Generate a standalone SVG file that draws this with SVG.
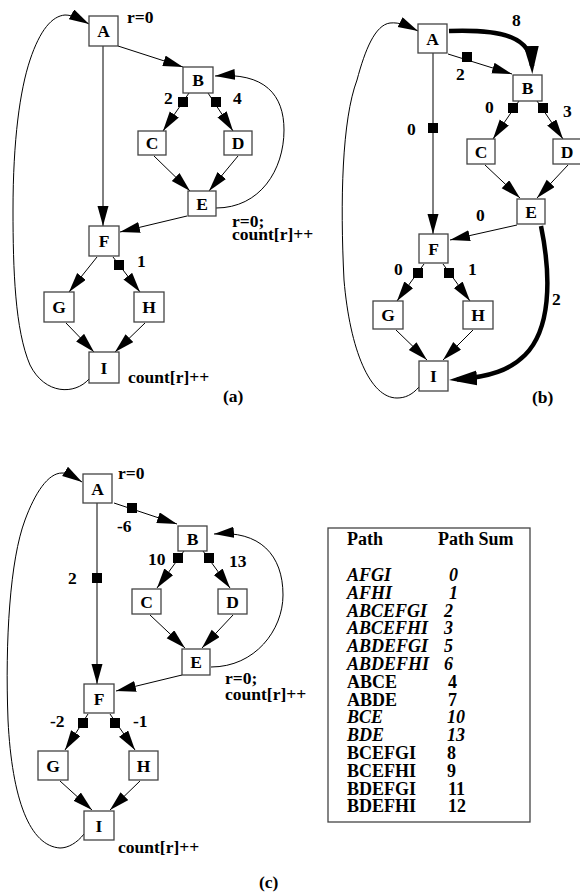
<svg xmlns="http://www.w3.org/2000/svg" width="580" height="895" viewBox="0 0 580 895">
<defs>
<marker id="ah" markerUnits="userSpaceOnUse" markerWidth="20" markerHeight="12" refX="20" refY="5.5" orient="auto">
<path d="M0,0 L20,5.5 L0,11 z" fill="#000"/>
</marker>
<marker id="ahT" markerUnits="userSpaceOnUse" markerWidth="28" markerHeight="16" refX="20" refY="7.5" orient="auto">
<path d="M0,0 L28,7.5 L0,15 z" fill="#000"/>
</marker>
</defs>
<style>
.nd{fill:#fff;stroke:#444;stroke-width:1.3}
.t{font-family:"Liberation Serif","Times New Roman",serif;font-weight:bold;font-size:17.5px;fill:#000}
.nt{text-anchor:middle}
.e{fill:none;stroke:#000;stroke-width:1;marker-end:url(#ah)}
.et{fill:none;stroke:#000;stroke-width:4.5;marker-end:url(#ahT)}
.sq{fill:#000}
.tb{font-family:"Liberation Serif","Times New Roman",serif;font-weight:bold;font-size:18px;fill:#000}
.it{font-style:italic}
</style>
<rect width="580" height="895" fill="#fff"/>

<!-- ========== Panel (a) ========== -->
<g id="edges-a">
<path class="e" d="M118,46 L183,67"/>
<path class="e" d="M103,46 L103,226"/>
<path class="e" d="M189,93 L163,131"/>
<path class="e" d="M208,93 L233,131"/>
<path class="e" d="M154,156 L190,191"/>
<path class="e" d="M238,156 L209,191"/>
<path class="e" d="M187,216 L120,232"/>
<path class="e" d="M216,208 C260,208 284,170 284,130 C284,95 265,72 215,76"/>
<path class="e" d="M97,257 L69,292"/>
<path class="e" d="M113,257 L140,292"/>
<path class="e" d="M66,323 L94,352"/>
<path class="e" d="M145,323 L115,352"/>
<path class="e" d="M89,379 C75,395 45,395 30,365 C15,330 13,270 13,210 C13,140 20,90 30,60 C40,30 52,16 65,15 C73,15 80,19 89,24"/>
<rect class="sq" x="178" y="97" width="10" height="10"/>
<rect class="sq" x="211" y="97" width="10" height="10"/>
<rect class="sq" x="114" y="260" width="10" height="10"/>
</g>
<g id="a-A"><rect class="nd" x="89" y="16" width="29" height="30"/><text class="t nt" x="103.5" y="37">A</text></g>
<g id="a-B"><rect class="nd" x="183" y="67" width="30" height="26"/><text class="t nt" x="198" y="86">B</text></g>
<g id="a-C"><rect class="nd" x="138" y="131" width="28" height="24"/><text class="t nt" x="152" y="149">C</text></g>
<g id="a-D"><rect class="nd" x="224" y="131" width="28" height="24"/><text class="t nt" x="238" y="149">D</text></g>
<g id="a-E"><rect class="nd" x="188" y="191" width="28" height="25"/><text class="t nt" x="202" y="209.5">E</text></g>
<g id="a-F"><rect class="nd" x="89" y="226" width="30" height="30"/><text class="t nt" x="104" y="247">F</text></g>
<g id="a-G"><rect class="nd" x="44" y="292" width="30" height="30"/><text class="t nt" x="59" y="313">G</text></g>
<g id="a-H"><rect class="nd" x="134" y="292" width="30" height="30"/><text class="t nt" x="149" y="313">H</text></g>
<g id="a-I"><rect class="nd" x="89" y="352" width="30" height="31"/><text class="t nt" x="104" y="373.5">I</text></g>
<g id="labels-a">
<text class="t" x="127" y="23">r=0</text>
<text class="t" x="164" y="104">2</text>
<text class="t" x="233" y="104">4</text>
<text class="t" x="232" y="227">r=0;</text>
<text class="t" x="232" y="240">count[r]++</text>
<text class="t" x="137" y="267">1</text>
<text class="t" x="128" y="383">count[r]++</text>
<text class="t" x="223" y="402">(a)</text>
</g>

<!-- ========== Panel (b) ========== -->
<g id="edges-b">
<path class="e" d="M448,54 L512,74"/>
<path class="et" d="M449,31 C505,29 531,38 532,66"/>
<path class="e" d="M433,53 L433,234"/>
<path class="e" d="M519,101 L493,139"/>
<path class="e" d="M537,101 L563,139"/>
<path class="e" d="M485,165 L520,198"/>
<path class="e" d="M568,165 L537,198"/>
<path class="e" d="M517,225 L450,240"/>
<path class="et" d="M541,226 C552,280 550,330 525,355 C510,370 490,377 457,379.5"/>
<path class="e" d="M424,264 L397,301"/>
<path class="e" d="M443,264 L470,301"/>
<path class="e" d="M396,330 L427,360"/>
<path class="e" d="M473,330 L443,360"/>
<path class="e" d="M419,387 C412,395 405,398 397,398 C370,398 350,350 344,280 C340,200 342,120 357,80 C365,50 375,25 390,23 C400,22 408,26 418,31"/>
<rect class="sq" x="462" y="52" width="10" height="10"/>
<rect class="sq" x="428" y="123" width="10" height="10"/>
<rect class="sq" x="508" y="103" width="10" height="10"/>
<rect class="sq" x="538" y="103" width="10" height="10"/>
<rect class="sq" x="413" y="268" width="10" height="10"/>
<rect class="sq" x="444" y="268" width="10" height="10"/>
</g>
<g id="b-A"><rect class="nd" x="418" y="24" width="29" height="29"/><text class="t nt" x="432.5" y="44.5">A</text></g>
<g id="b-B"><rect class="nd" x="513" y="75" width="29" height="26"/><text class="t nt" x="527.5" y="94">B</text></g>
<g id="b-C"><rect class="nd" x="467" y="139" width="28" height="25"/><text class="t nt" x="481" y="157.5">C</text></g>
<g id="b-D"><rect class="nd" x="553" y="139" width="28" height="25"/><text class="t nt" x="567" y="157.5">D</text></g>
<g id="b-E"><rect class="nd" x="517" y="199" width="28" height="25"/><text class="t nt" x="531" y="217.5">E</text></g>
<g id="b-F"><rect class="nd" x="419" y="234" width="29" height="29"/><text class="t nt" x="433.5" y="254.5">F</text></g>
<g id="b-G"><rect class="nd" x="373" y="301" width="30" height="28"/><text class="t nt" x="388" y="321">G</text></g>
<g id="b-H"><rect class="nd" x="463" y="301" width="30" height="28"/><text class="t nt" x="478" y="321">H</text></g>
<g id="b-I"><rect class="nd" x="419" y="361" width="29" height="30"/><text class="t nt" x="433.5" y="382">I</text></g>
<g id="labels-b">
<text class="t" x="512" y="26">8</text>
<text class="t" x="456" y="80">2</text>
<text class="t" x="407" y="135">0</text>
<text class="t" x="485" y="113">0</text>
<text class="t" x="563" y="117">3</text>
<text class="t" x="476" y="221">0</text>
<text class="t" x="394" y="275">0</text>
<text class="t" x="468" y="275">1</text>
<text class="t" x="552" y="305">2</text>
<text class="t" x="532" y="403">(b)</text>
</g>

<!-- ========== Panel (c) ========== -->
<g id="edges-c">
<path class="e" d="M114,503 L177,524"/>
<path class="e" d="M97,503 L97,684"/>
<path class="e" d="M184,551 L157,588"/>
<path class="e" d="M203,551 L230,588"/>
<path class="e" d="M150,615 L185,648"/>
<path class="e" d="M233,615 L202,648"/>
<path class="e" d="M182,675 L116,691"/>
<path class="e" d="M211,667 C255,667 283,630 283,595 C283,555 260,530 214,534"/>
<path class="e" d="M88,714 L65,750"/>
<path class="e" d="M110,714 L135,750"/>
<path class="e" d="M60,781 L92,810"/>
<path class="e" d="M140,781 L110,810"/>
<path class="e" d="M84,834 C77,843 68,848 60,848 C30,846 12,800 8,720 C5,640 10,560 25,520 C35,493 48,473 62,473 C69,473 74,477 82,482"/>
<rect class="sq" x="127" y="503" width="10" height="10"/>
<rect class="sq" x="92" y="573" width="10" height="10"/>
<rect class="sq" x="173" y="553" width="10" height="10"/>
<rect class="sq" x="204" y="553" width="10" height="10"/>
<rect class="sq" x="78" y="718" width="10" height="10"/>
<rect class="sq" x="110" y="718" width="10" height="10"/>
</g>
<g id="c-A"><rect class="nd" x="83" y="474" width="29" height="29"/><text class="t nt" x="97.5" y="494.5">A</text></g>
<g id="c-B"><rect class="nd" x="178" y="526" width="29" height="25"/><text class="t nt" x="192.5" y="544.5">B</text></g>
<g id="c-C"><rect class="nd" x="132" y="589" width="29" height="25"/><text class="t nt" x="146.5" y="607.5">C</text></g>
<g id="c-D"><rect class="nd" x="218" y="589" width="29" height="25"/><text class="t nt" x="232.5" y="607.5">D</text></g>
<g id="c-E"><rect class="nd" x="182" y="649" width="28" height="26"/><text class="t nt" x="196" y="668">E</text></g>
<g id="c-F"><rect class="nd" x="84" y="684" width="30" height="29"/><text class="t nt" x="99" y="704.5">F</text></g>
<g id="c-G"><rect class="nd" x="38" y="751" width="30" height="29"/><text class="t nt" x="53" y="771.5">G</text></g>
<g id="c-H"><rect class="nd" x="129" y="751" width="29" height="29"/><text class="t nt" x="143.5" y="771.5">H</text></g>
<g id="c-I"><rect class="nd" x="84" y="811" width="30" height="29"/><text class="t nt" x="99" y="831.5">I</text></g>
<g id="labels-c">
<text class="t" x="118" y="479">r=0</text>
<text class="t" x="117" y="532">-6</text>
<text class="t" x="68" y="584">2</text>
<text class="t" x="148" y="565">10</text>
<text class="t" x="229" y="567">13</text>
<text class="t" x="225" y="684">r=0;</text>
<text class="t" x="225" y="700">count[r]++</text>
<text class="t" x="50" y="727">-2</text>
<text class="t" x="133" y="727">-1</text>
<text class="t" x="118" y="853">count[r]++</text>
<text class="t" x="259" y="888">(c)</text>
</g>

<!-- ========== Table ========== -->
<g id="table">
<rect x="328" y="528" width="202" height="294" fill="#fff" stroke="#444" stroke-width="1.3"/>
<text class="tb" x="347" y="545">Path</text>
<text class="tb" x="438" y="545">Path Sum</text>
<text class="tb it" x="347" y="581">AFGI</text><text class="tb it" x="449" y="581">0</text>
<text class="tb it" x="347" y="599">AFHI</text><text class="tb it" x="449" y="599">1</text>
<text class="tb it" x="347" y="617">ABCEFGI</text><text class="tb it" x="444" y="617">2</text>
<text class="tb it" x="347" y="634">ABCEFHI</text><text class="tb it" x="444" y="634">3</text>
<text class="tb it" x="347" y="652">ABDEFGI</text><text class="tb it" x="444" y="652">5</text>
<text class="tb it" x="347" y="670">ABDEFHI</text><text class="tb it" x="444" y="670">6</text>
<text class="tb" x="347" y="688">ABCE</text><text class="tb" x="448" y="688">4</text>
<text class="tb" x="347" y="706">ABDE</text><text class="tb" x="448" y="706">7</text>
<text class="tb it" x="347" y="723">BCE</text><text class="tb it" x="447" y="723">10</text>
<text class="tb it" x="347" y="741">BDE</text><text class="tb it" x="447" y="741">13</text>
<text class="tb" x="347" y="759">BCEFGI</text><text class="tb" x="447" y="759">8</text>
<text class="tb" x="347" y="777">BCEFHI</text><text class="tb" x="447" y="777">9</text>
<text class="tb" x="347" y="795">BDEFGI</text><text class="tb" x="448" y="795">11</text>
<text class="tb" x="347" y="812">BDEFHI</text><text class="tb" x="448" y="812">12</text>
</g>
</svg>
